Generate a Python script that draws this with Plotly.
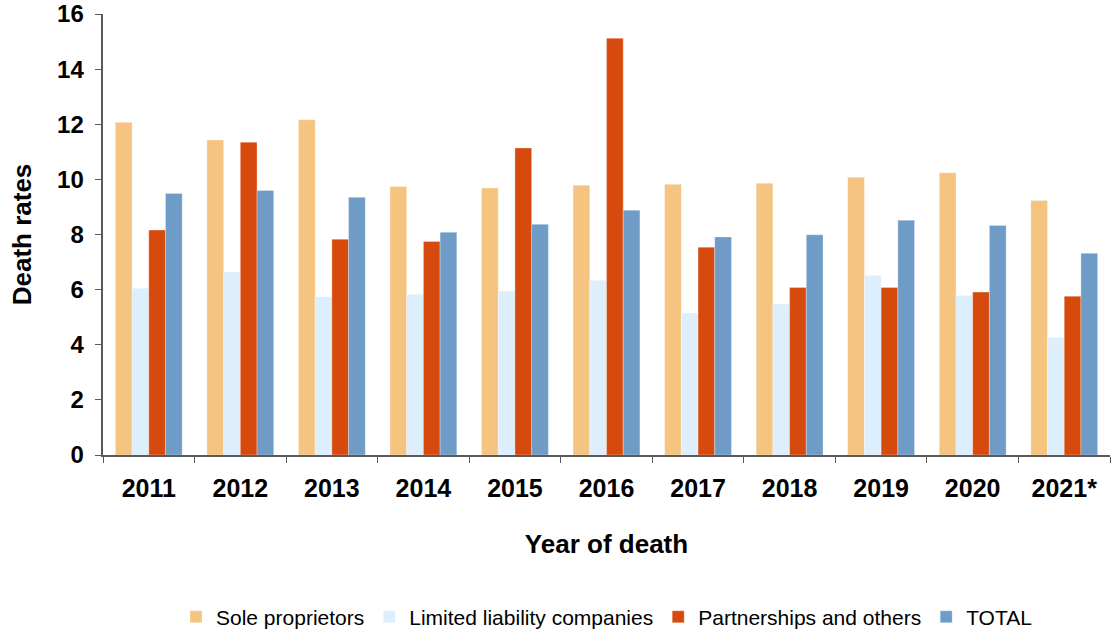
import plotly.graph_objects as go

years = ["2011", "2012", "2013", "2014", "2015", "2016", "2017", "2018", "2019", "2020", "2021*"]

sole_proprietors = [12.07, 11.43, 12.16, 9.74, 9.69, 9.79, 9.82, 9.86, 10.08, 10.24, 9.23]
limited_liability = [6.05, 6.64, 5.74, 5.83, 5.95, 6.34, 5.15, 5.48, 6.51, 5.79, 4.26]
partnerships = [8.16, 11.35, 7.83, 7.75, 11.14, 15.12, 7.54, 6.08, 6.08, 5.91, 5.76]
total = [9.49, 9.60, 9.35, 8.08, 8.37, 8.88, 7.91, 7.99, 8.52, 8.33, 7.32]

series = [
    ("Sole proprietors", sole_proprietors, "#F4C480"),
    ("Limited liability companies", limited_liability, "#DDEEFD"),
    ("Partnerships and others", partnerships, "#D64B0D"),
    ("TOTAL", total, "#6E9CC6"),
]

fig = go.Figure()
for name, vals, color in series:
    fig.add_trace(go.Bar(
        x=years, y=vals, name=name,
        marker=dict(color=color, line=dict(color="rgba(255,255,255,0.6)", width=0.5)),
    ))

FONT = "Liberation Sans, Arial"

fig.update_layout(
    width=1112, height=633,
    barmode="group", bargap=0.27, bargroupgap=0,
    plot_bgcolor="white", paper_bgcolor="white",
    margin=dict(l=103, r=2, t=14, b=178),
    font=dict(family=FONT, color="#000000"),
    xaxis=dict(
        title=dict(text="<b>Year of death</b>", font=dict(family=FONT, size=26), standoff=34),
        tickfont=dict(family=FONT, size=25, color="#000000"),
        tickprefix="<b>", ticksuffix="</b>",
        ticklabelstandoff=10,
        showline=True, linecolor="#595959", linewidth=1.5,
        ticks="outside", tickson="boundaries", ticklen=6, tickcolor="#595959",
        showgrid=False, automargin=False,
    ),
    yaxis=dict(
        title=dict(text="<b>Death rates</b>", font=dict(family=FONT, size=26), standoff=18),
        range=[0, 16], dtick=2,
        tickfont=dict(family=FONT, size=24, color="#000000"),
        tickprefix="<b>", ticksuffix="</b>\u00a0",
        showline=True, linecolor="#595959", linewidth=1.5,
        ticks="outside", ticklen=6, tickcolor="#595959",
        showgrid=False, zeroline=False, automargin=False,
    ),
    legend=dict(
        orientation="h", x=0.5, xanchor="center",
        yref="container", y=0.025, yanchor="middle",
        font=dict(family=FONT, size=21, color="#000000"),
        itemwidth=30,
    ),
)

fig.write_html("out.html", config={"displayModeBar": False},
               post_script="document.body.style.margin='0px';")
